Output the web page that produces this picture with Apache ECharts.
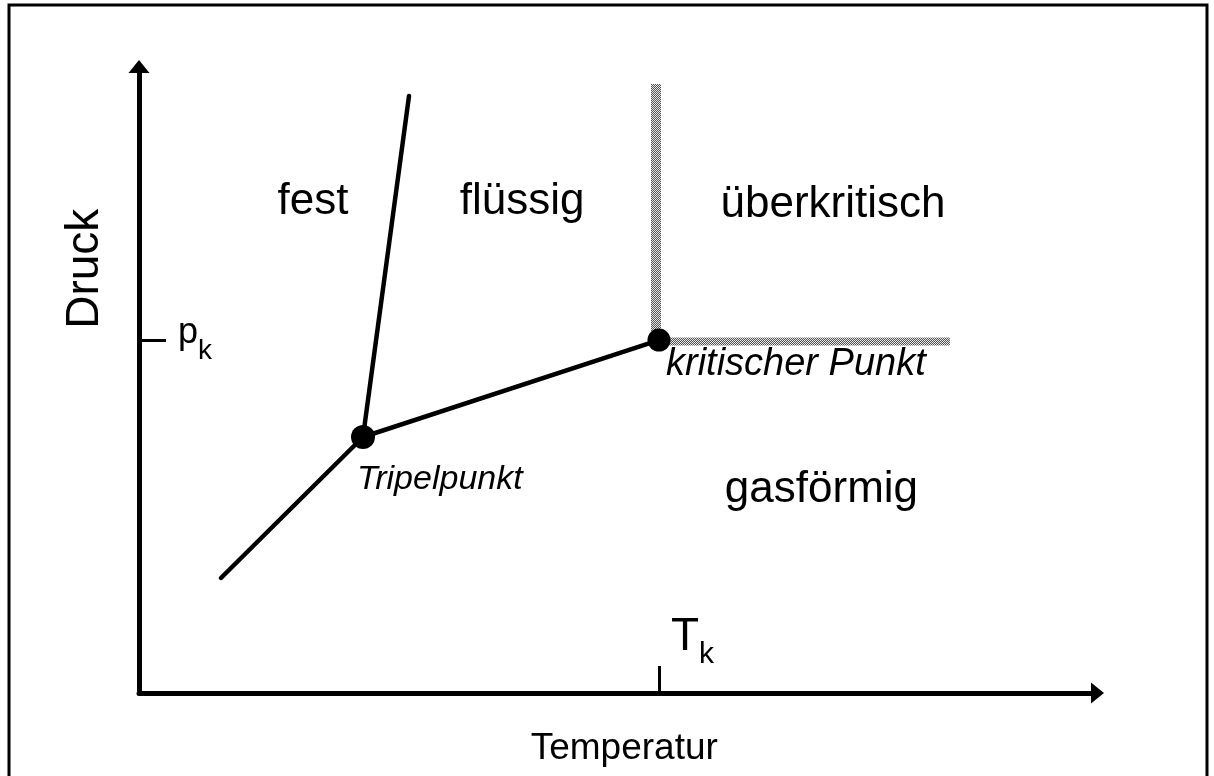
<!DOCTYPE html>
<html><head><meta charset="utf-8">
<script src="https://cdn.jsdelivr.net/npm/echarts@6/dist/echarts.min.js"></script>
<style>html,body{margin:0;padding:0;background:#fff}#c{width:1214px;height:776px}</style>
</head><body><div id="c"></div>
<script>
// ---- data (arbitrary units: temperature 0..100, pressure 0..100) ----
const xAxisName = 'Temperatur';
const yAxisName = 'Druck';
const criticalT = 54.25;           // T_k
const criticalP = 56.3;            // p_k
const xTickLabel = ['T', 'k'];
const yTickLabel = ['p', 'k'];
const sublimationCurve = [[8.55, 18.36], [23.37, 40.86]];
const meltingCurve = [[23.37, 40.86], [28.17, 95.29]];
const boilingCurve = [[23.37, 40.86], [54.25, 56.34]];
const supercriticalVertical = [[53.94, 56.3], [53.94, 97.2]];
const supercriticalHorizontal = [[54.25, 56.1], [84.6, 56.1]];
const pointNames = ['Tripelpunkt', 'kritischer Punkt'];
const pointValues = [[23.37, 40.86], [54.25, 56.34]];
const regionNames = ['fest', 'flüssig', 'überkritisch', 'gasförmig'];
const regionValues = [[18.15, 78.4], [39.96, 78.4], [72.4, 77.9], [71.2, 32.4]];

const FONT = '"Liberation Sans", Arial, sans-serif';

function hatchCanvas() {
  const c = document.createElement('canvas');
  c.width = 4; c.height = 4;
  const g = c.getContext('2d');
  g.fillStyle = '#e4e4e4'; g.fillRect(0, 0, 4, 4);
  g.fillStyle = '#555555';
  for (let i = 0; i < 4; i++) { g.fillRect(i, 3 - i, 1, 1); g.fillRect(i, (5 - i) % 4, 1, 1); }
  return c;
}
const hatch = { image: hatchCanvas(), repeat: 'repeat' };

const chart = echarts.init(document.getElementById('c'), null, { renderer: 'canvas' });

const lineSeries = (data, color, width, cap) => ({
  type: 'line', data, symbol: 'none', silent: true, animation: false,
  lineStyle: { color, width, cap: cap || 'round', opacity: 1 }, z: 3
});

chart.setOption({
  animation: false,
  backgroundColor: '#fff',
  textStyle: { fontFamily: FONT, color: '#000' },
  graphic: [{
    type: 'rect', shape: { x: 9, y: 5, width: 1198, height: 820 },
    style: { fill: 'none', stroke: '#000', lineWidth: 3 }, silent: true, z: 0
  }],
  grid: { left: 139, right: 116.5, top: 66.5, bottom: 83 },
  xAxis: {
    type: 'value', min: 0, max: 100,
    name: xAxisName, nameLocation: 'middle', nameGap: 37,
    nameTextStyle: { fontSize: 37, color: '#000', fontFamily: FONT, padding: [0, 0, 0, 12] },
    splitLine: { show: false },
    axisLine: { lineStyle: { color: '#000', width: 5 }, symbol: ['none', 'triangle'], symbolSize: [21, 13] },
    axisTick: { inside: true, length: 27, lineStyle: { color: '#000', width: 3 }, customValues: [criticalT] },
    axisLabel: {
      inside: true, margin: 23.4, customValues: [criticalT], align: 'left', padding: [0, 0, 0, 12],
      formatter: () => '{a|' + xTickLabel[0] + '}{b|' + xTickLabel[1] + '}',
      rich: {
        a: { fontSize: 46, lineHeight: 46, verticalAlign: 'top', color: '#000', fontFamily: FONT },
        b: { fontSize: 30, lineHeight: 55.5, verticalAlign: 'bottom', color: '#000', fontFamily: FONT }
      }
    }
  },
  yAxis: {
    type: 'value', min: 0, max: 100,
    name: yAxisName, nameLocation: 'middle', nameGap: 31,
    nameTextStyle: { fontSize: 46, color: '#000', fontFamily: FONT, padding: [0, 0, 0, 222] },
    splitLine: { show: false },
    axisLine: { lineStyle: { color: '#000', width: 5 }, symbol: ['none', 'triangle'], symbolSize: [21, 13] },
    axisTick: { inside: true, length: 27, lineStyle: { color: '#000', width: 3 }, customValues: [criticalP] },
    axisLabel: {
      inside: true, margin: 39, customValues: [criticalP], align: 'left', padding: [0, 0, 0, 0],
      formatter: () => '{a|' + yTickLabel[0] + '}{b|' + yTickLabel[1] + '}',
      rich: {
        a: { fontSize: 36, lineHeight: 36, verticalAlign: 'top', color: '#000', fontFamily: FONT },
        b: { fontSize: 28, lineHeight: 51, verticalAlign: 'bottom', color: '#000', fontFamily: FONT }
      }
    }
  },
  series: [
    lineSeries(supercriticalVertical, hatch, 10, 'butt'),
    lineSeries(supercriticalHorizontal, hatch, 8, 'butt'),
    lineSeries(sublimationCurve, '#000', 4.5),
    lineSeries(meltingCurve, '#000', 4.5),
    lineSeries(boilingCurve, '#000', 4.5),
    {
      type: 'scatter', silent: true, z: 5, symbolSize: 24,
      itemStyle: { color: '#000', opacity: 1 },
      data: [
        { value: pointValues[0], name: pointNames[0],
          label: { show: true, position: [6, 55], align: 'left', verticalAlign: 'middle', formatter: '{b}',
                   fontSize: 34, fontStyle: 'italic', color: '#000', opacity: 1, fontFamily: FONT } },
        { value: pointValues[1], name: pointNames[1], symbolSize: 23,
          label: { show: true, position: [18.5, 35.5], align: 'left', verticalAlign: 'middle', formatter: '{b}',
                   fontSize: 38, fontStyle: 'italic', color: '#000', opacity: 1, fontFamily: FONT } }
      ]
    },
    {
      type: 'scatter', silent: true, z: 4, symbolSize: 0.5,
      itemStyle: { color: '#fff', opacity: 1 },
      label: { show: true, position: 'inside', formatter: '{b}', fontSize: 44, color: '#000', opacity: 1, fontFamily: FONT },
      data: regionNames.map((n, i) => ({ name: n, value: regionValues[i] }))
    }
  ]
});
</script></body></html>
